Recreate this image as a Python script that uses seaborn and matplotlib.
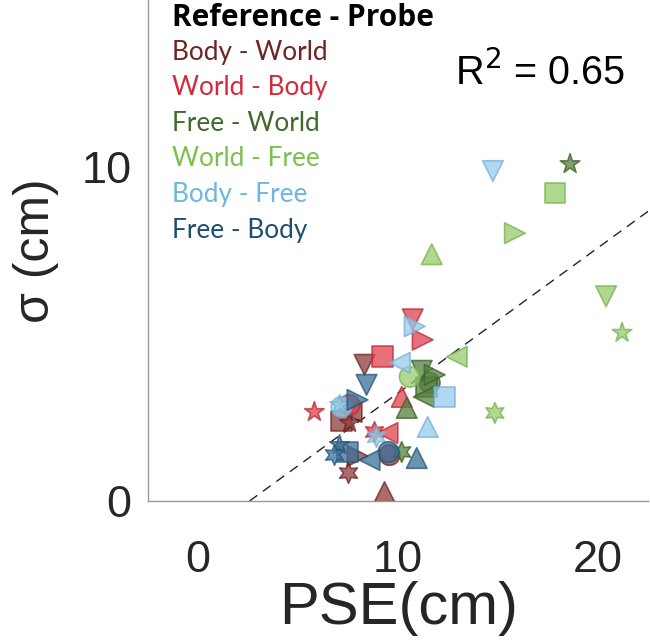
import numpy as np
import pandas as pd
import seaborn as sns
import matplotlib.pyplot as plt

# Datos (PSE vs sigma, un marcador por sujeto)
conditions = ["Body - World", "World - Body", "Free - World",
              "World - Free", "Body - Free", "Free - Body"]
subjects = ["s1", "s2", "s3", "s4", "s5", "s6", "s7", "s8"]
marker_list = ["o", "s", "^", "v", ">", "<", "*", (6, 1, 0)]

pse_body_world = [9.57, 7.17, 9.32, 8.32, 7.97, 7.67, 7.57, 7.52]
sig_body_world = [1.38, 2.40, 0.27, 4.08, 1.35, 2.67, 2.34, 0.84]
pse_world_body = [7.57, 9.22, 10.18, 10.73, 11.23, 9.47, 5.81, 8.82]
sig_world_body = [2.88, 4.32, 3.12, 5.44, 4.83, 2.04, 2.67, 2.07]
pse_free_world = [11.58, 11.43, 10.43, 11.18, 11.83, 11.28, 18.60, 10.18]
sig_free_world = [3.54, 3.42, 2.79, 3.90, 3.78, 3.12, 10.09, 1.47]
pse_world_free = [10.58, 17.85, 11.68, 20.40, 15.84, 12.93, 21.20, 14.84]
sig_world_free = [3.72, 9.22, 7.39, 6.13, 8.02, 4.32, 5.04, 2.64]
pse_body_free = [7.17, 12.33, 11.48, 14.74, 10.83, 10.08, 7.07, 8.92]
sig_body_free = [2.82, 3.12, 2.22, 9.88, 5.23, 4.14, 2.88, 1.92]
pse_free_body = [9.52, 7.47, 10.93, 8.42, 7.97, 8.57, 7.07, 6.82]
sig_free_body = [1.47, 1.47, 1.29, 3.48, 3.03, 1.23, 1.68, 1.38]

fit_slope = 0.435
fit_intercept = -1.114
r2_text = "R$^2$ = 0.65"

text_colors = ["#6e2424", "#d42a3a", "#3f6a2c", "#7cc04e", "#6fb5de", "#1f4e6e"]
face_colors = ["#8f3b3b", "#e0404e", "#55803f", "#96cc6c", "#96cbeb", "#3a7096"]
edge_colors = ["#6a2626", "#b82a38", "#3d6129", "#78b24c", "#74b0d6", "#24567a"]

pse = [pse_body_world, pse_world_body, pse_free_world,
       pse_world_free, pse_body_free, pse_free_body]
sig = [sig_body_world, sig_world_body, sig_free_world,
       sig_world_free, sig_body_free, sig_free_body]

rows = []
for c, xs, ys in zip(conditions, pse, sig):
    for s, x, y in zip(subjects, xs, ys):
        rows.append({"cond": c, "subject": s, "PSE": x, "sigma": y})
df = pd.DataFrame(rows)

sns.set_style("white")
plt.rcParams["font.family"] = ["Liberation Sans", "DejaVu Sans"]

fig, ax = plt.subplots(figsize=(6.5, 6.4), dpi=100)
fig.subplots_adjust(left=0.228, right=0.997, bottom=0.217, top=1.0)

markers = dict(zip(subjects, marker_list))
for i, c in enumerate(conditions):
    sub = df[df["cond"] == c]
    sns.scatterplot(data=sub, x="PSE", y="sigma", style="subject",
                    markers=markers, color=face_colors[i],
                    edgecolor=edge_colors[i], linewidth=1.2,
                    s=220, alpha=0.75, legend=False, ax=ax, zorder=3)

ax.axline((0, fit_intercept), slope=fit_slope, color="#222222",
          lw=1.0, ls=(0, (7, 5)), zorder=2)

ax.set_xlim(-2.5, 22.5)
ax.set_ylim(0, 15)
ax.set_xticks([0, 10, 20])
ax.set_yticks([0, 10])
ax.tick_params(direction="in", length=6, width=1, color="#999999",
               labelsize=32.5)
ax.tick_params(axis="x", pad=28)
ax.tick_params(axis="y", pad=12)
for side in ["top", "right"]:
    ax.spines[side].set_visible(False)
for side in ["left", "bottom"]:
    ax.spines[side].set_color("#999999")
    ax.spines[side].set_linewidth(1.0)

ax.set_xlabel("PSE(cm)", fontsize=43, labelpad=0)
ax.set_ylabel("σ (cm)", fontsize=36, labelpad=16)

# Leyenda como texto de color
ax.text(0.048, 0.964, "Reference - Probe", transform=ax.transAxes,
        fontsize=21.5, fontweight="bold", family=["Open Sans", "DejaVu Sans"],
        va="center", ha="left", color="black")
for i, c in enumerate(conditions):
    ax.text(0.048, 0.896 - i * 0.071, c, transform=ax.transAxes,
            fontsize=18.8, family=["Lato", "DejaVu Sans"],
            va="center", ha="left", color=text_colors[i])

ax.text(0.614, 0.856, r2_text, transform=ax.transAxes, fontsize=28.5,
        va="center", ha="left", color="black")

plt.savefig("out.png", dpi=100)
plt.close()
